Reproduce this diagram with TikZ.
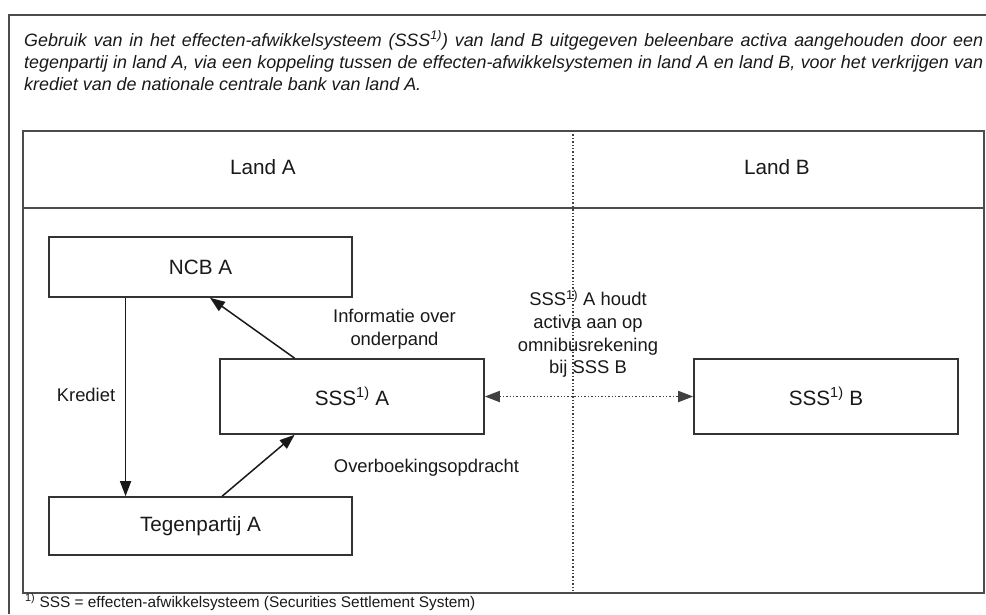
\documentclass[tikz,border=0pt]{standalone}
\usepackage{fontspec}
\setmainfont{Liberation Sans}
\usetikzlibrary{arrows.meta,calc}
\begin{document}
\begin{tikzpicture}[x=1pt,y=-1pt,
  frame/.style={draw=black!70,line width=1.7pt},
  boxnode/.style={draw=black!80,line width=1.6pt,font=\fontsize{20.7}{24}\selectfont,inner sep=0pt,text=black!90},
  lbl/.style={font=\fontsize{18.4}{22.7}\selectfont,align=center,inner sep=0pt,text=black!90},
  titleline/.style={anchor=base west,inner sep=0pt,font=\fontsize{17.9}{22}\selectfont\itshape,text=black!90},
  arr/.style={draw=black!90,line width=1.5pt,-{Triangle[length=15pt,width=11pt]}},
  dotline/.style={draw=black!75,line width=1.8pt,dash pattern=on 1.4pt off 2pt},
]
\useasboundingbox (0,0) rectangle (986,614);

% outer frame (cut at right and bottom)
\draw[frame] (9,614) -- (9,15) -- (986,15);

% title
\node[titleline] (t1) at (24,46) {\makebox[959pt][s]{Gebruik van in het effecten-afwikkelsysteem (SSS\textsuperscript{1)}) van land B uitgegeven beleenbare activa aangehouden door een}};
\node[titleline] (t2) at (24,68) {\makebox[959pt][s]{tegenpartij in land A, via een koppeling tussen de effecten-afwikkelsystemen in land A en land B, voor het verkrijgen van}};
\node[titleline] (t3) at (24,90) {krediet van de nationale centrale bank van land A.};

% inner frame
\draw[frame] (23,131) rectangle (984,593);
\draw[frame] (23,208) -- (984,208);
\coordinate (dtop) at (573,131);
\coordinate (dbot) at (573,593);
\draw[dotline] (dtop) -- (dbot);

\node[lbl,font=\fontsize{20.7}{24}\selectfont] (landa) at (263,167) {Land A};
\node[lbl,font=\fontsize{20.7}{24}\selectfont] (landb) at (777,167) {Land B};

% boxes
\node[boxnode,minimum width=303pt,minimum height=60pt] (ncb) at (200.5,267) {NCB A};
\node[boxnode,minimum width=264pt,minimum height=75pt] (sssa) at (352,396.5) {SSS\textsuperscript{1)} A};
\node[boxnode,minimum width=303pt,minimum height=58pt] (teg) at (200.5,526) {Tegenpartij A};
\node[boxnode,minimum width=264pt,minimum height=75pt] (sssb) at (826,396.5) {SSS\textsuperscript{1)} B};

% arrows
\draw[arr] ($(ncb.south west)!0.254!(ncb.south east)$) -- ($(teg.north west)!0.254!(teg.north east)$);
\draw[arr] ($(sssa.north west)!0.284!(sssa.north east)$) -- ($(ncb.south west)!0.531!(ncb.south east)$);
\draw[arr] ($(teg.north west)!0.571!(teg.north east)$) -- ($(sssa.south west)!0.284!(sssa.south east)$);
\draw[dotline,{Triangle[length=15pt,width=11pt]}-{Triangle[length=15pt,width=11pt]}] (sssa.east) -- (sssb.west);

% labels
\node[lbl] (krediet) at (86,395) {Krediet};
\node[lbl] (info) at (394.5,329) {Informatie over\\onderpand};
\node[lbl] (overb) at (426.5,468) {Overboekingsopdracht};
\node[lbl] (omni) at (588,334) {SSS\textsuperscript{1)} A houdt\\activa aan op\\omnibusrekening\\bij SSS B};

% footnote
\node[anchor=base west,inner sep=0pt,font=\fontsize{15.4}{18}\selectfont,text=black!90] (fn) at (25,607) {\textsuperscript{1)} SSS = effecten-afwikkelsysteem (Securities Settlement System)};
\end{tikzpicture}
\end{document}
